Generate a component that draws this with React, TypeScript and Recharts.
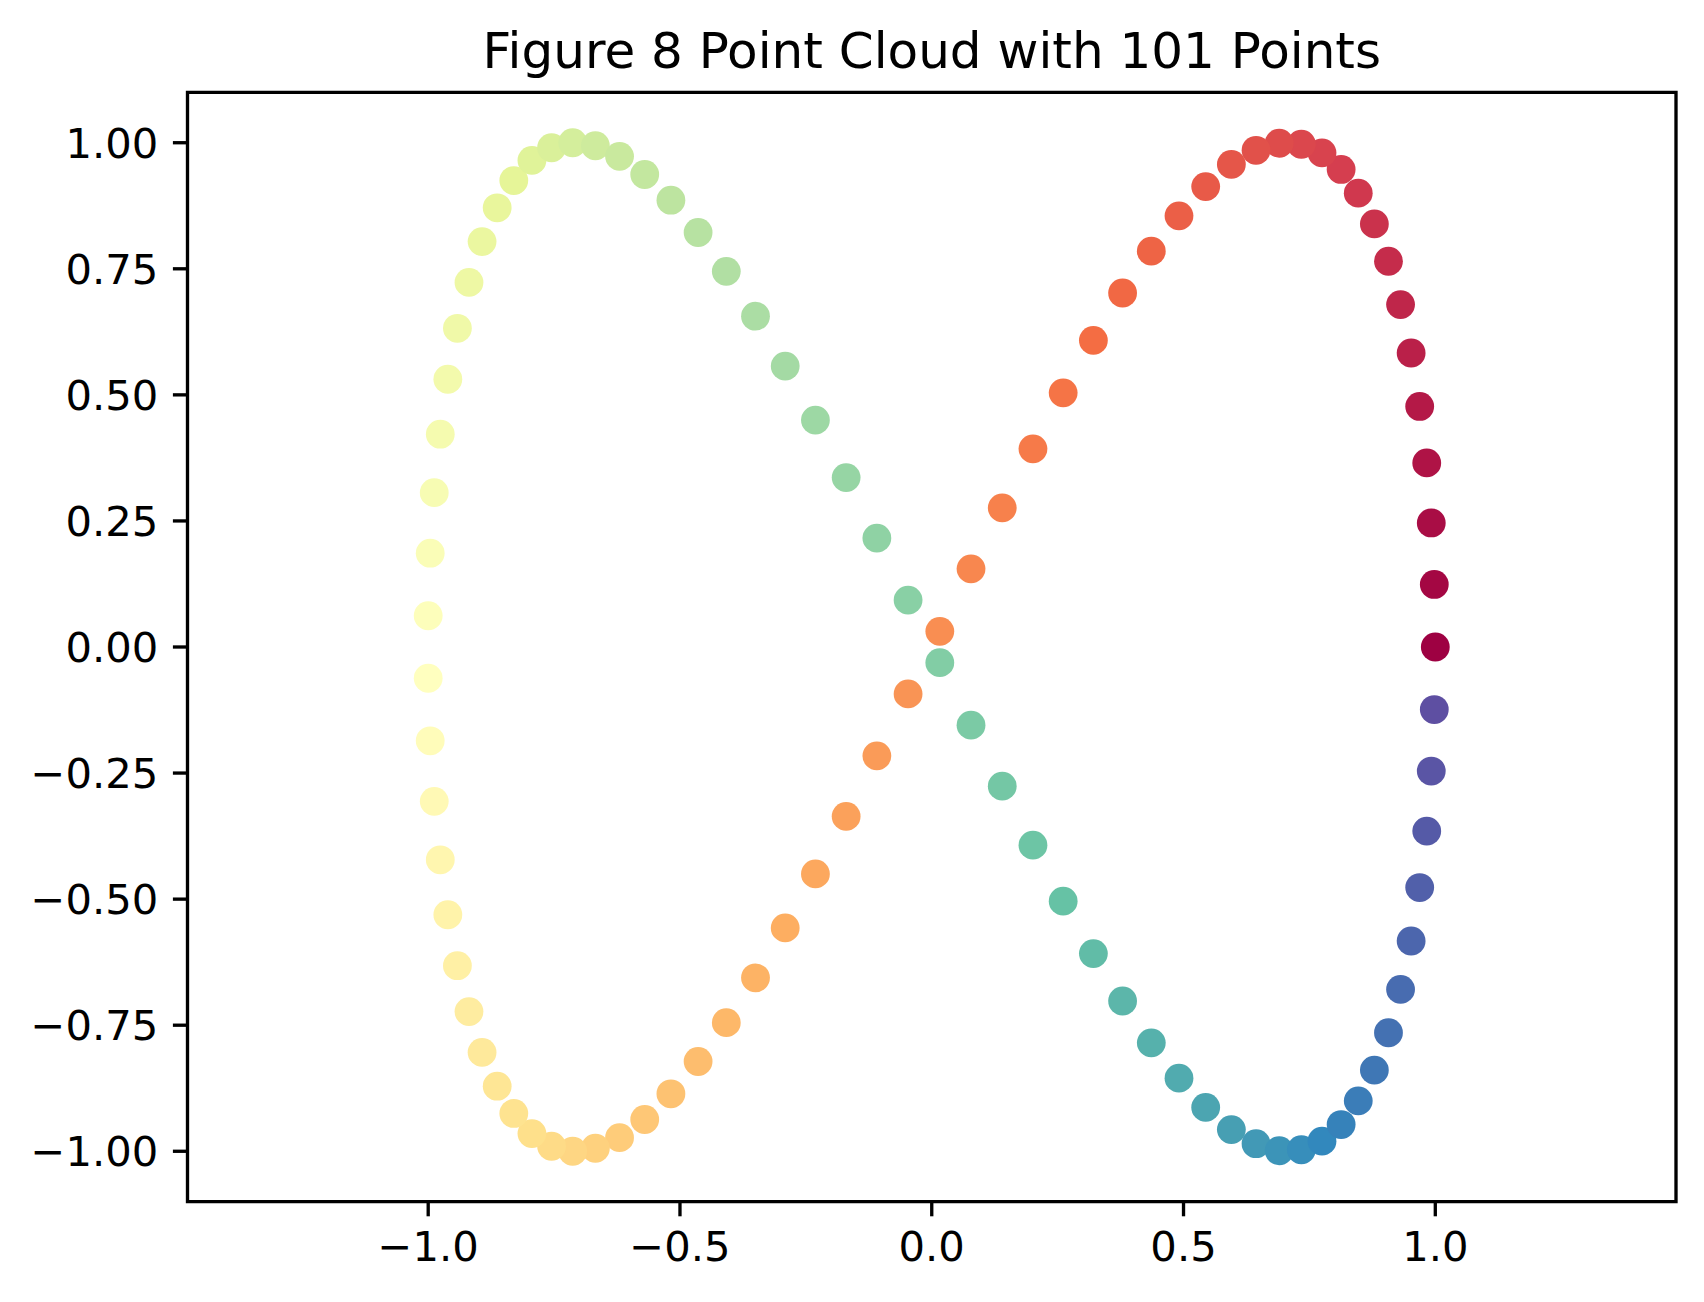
import React from "react";
import {
  ScatterChart,
  Scatter,
  XAxis,
  YAxis,
  ReferenceArea,
} from "recharts";

// Figure-8 point cloud: 101 points
const X_VALUES: number[] = [
  1.0, 0.998, 0.992, 0.983, 0.969, 0.952, 0.931, 0.907, 0.879, 0.847,
  0.813, 0.775, 0.734, 0.69, 0.644, 0.595, 0.544, 0.491, 0.436, 0.379,
  0.321, 0.261, 0.201, 0.14, 0.078, 0.016, -0.047, -0.109, -0.17, -0.231,
  -0.291, -0.35, -0.408, -0.464, -0.518, -0.57, -0.62, -0.668, -0.713, -0.755,
  -0.794, -0.83, -0.863, -0.893, -0.919, -0.942, -0.961, -0.976, -0.988, -0.996,
  -1.0,
  -1.0, -0.996, -0.988, -0.976, -0.961, -0.942, -0.919, -0.893, -0.863, -0.83,
  -0.794, -0.755, -0.713, -0.668, -0.62, -0.57, -0.518, -0.464, -0.408, -0.35,
  -0.291, -0.231, -0.17, -0.109, -0.047, 0.016, 0.078, 0.14, 0.201, 0.261,
  0.321, 0.379, 0.436, 0.491, 0.544, 0.595, 0.644, 0.69, 0.734, 0.775,
  0.813, 0.847, 0.879, 0.907, 0.931, 0.952, 0.969, 0.983, 0.992, 0.998,
];

const Y_VALUES: number[] = [
  0.0, 0.124, 0.246, 0.365, 0.477, 0.583, 0.679, 0.765, 0.839, 0.9,
  0.947, 0.98, 0.997, 0.999, 0.985, 0.957, 0.913, 0.855, 0.785, 0.702,
  0.608, 0.504, 0.393, 0.276, 0.155, 0.031, -0.093, -0.216, -0.336, -0.45,
  -0.557, -0.656, -0.745, -0.822, -0.886, -0.937, -0.973, -0.994, -1.0, -0.99,
  -0.965, -0.925, -0.871, -0.804, -0.723, -0.632, -0.531, -0.422, -0.306, -0.186,
  -0.062,
  0.062, 0.186, 0.306, 0.422, 0.531, 0.632, 0.723, 0.804, 0.871, 0.925,
  0.965, 0.99, 1.0, 0.994, 0.973, 0.937, 0.886, 0.822, 0.745, 0.656,
  0.557, 0.45, 0.336, 0.216, 0.093, -0.031, -0.155, -0.276, -0.393, -0.504,
  -0.608, -0.702, -0.785, -0.855, -0.913, -0.957, -0.985, -0.999, -0.997, -0.98,
  -0.947, -0.9, -0.839, -0.765, -0.679, -0.583, -0.477, -0.365, -0.246, -0.124,
];

const X_TICKS: number[] = [-1.0, -0.5, 0.0, 0.5, 1.0];
const Y_TICKS: number[] = [-1.0, -0.75, -0.5, -0.25, 0.0, 0.25, 0.5, 0.75, 1.0];
const X_DOMAIN: [number, number] = [-1.478, 1.478];
const Y_DOMAIN: [number, number] = [-1.1, 1.1];
const TITLE = "Figure 8 Point Cloud with 101 Points";

// matplotlib "Spectral" colormap anchors
const SPECTRAL: string[] = [
  "#9e0142", "#d53e4f", "#f46d43", "#fdae61", "#fee08b", "#ffffbf",
  "#e6f598", "#abdda4", "#66c2a5", "#3288bd", "#5e4fa2",
];

function hexToRgb(h: string): number[] {
  return [
    parseInt(h.slice(1, 3), 16),
    parseInt(h.slice(3, 5), 16),
    parseInt(h.slice(5, 7), 16),
  ];
}

function spectral(t: number): string {
  const n = SPECTRAL.length - 1;
  const pos = Math.max(0, Math.min(1, t)) * n;
  const i = Math.min(Math.floor(pos), n - 1);
  const f = pos - i;
  const a = hexToRgb(SPECTRAL[i]);
  const b = hexToRgb(SPECTRAL[i + 1]);
  const c = a.map((v, j) => Math.round(v + (b[j] - v) * f));
  return `rgb(${c[0]},${c[1]},${c[2]})`;
}

const table = X_VALUES.map((x, i) => ({ x, y: Y_VALUES[i], idx: i }));
const N = table.length - 1;

const minus = (s: string) => s.replace("-", "\u2212");
const fmtX = (v: number) => minus(v.toFixed(1));
const fmtY = (v: number) => minus(v.toFixed(2));

const FONT = "'DejaVu Sans', sans-serif";
const LW = 3.33;
const TICK_LEN = 14.6;
const TICK_PAD = 14.6;

const PLOT_LEFT = 187.5;
const PLOT_RIGHT = 1676;
const PLOT_TOP = 92.3;
const PLOT_BOTTOM = 1201.7;
const W = 1704;
const H = 1302;

const Dot = (props: any) => {
  const { cx, cy, payload } = props;
  if (cx == null || cy == null) return null;
  return <circle cx={cx} cy={cy} r={14.4} fill={spectral(payload.idx / N)} />;
};

export default function App() {
  return (
    <div style={{ position: "absolute", left: 0, top: 0, width: W, height: H, background: "#fff" }}>
      <ScatterChart
        width={W}
        height={H}
        margin={{ top: PLOT_TOP, right: W - PLOT_RIGHT, bottom: 0, left: 0 }}
      >
        <XAxis
          type="number"
          dataKey="x"
          domain={X_DOMAIN}
          ticks={X_TICKS}
          allowDataOverflow
          tickFormatter={fmtX}
          height={H - PLOT_BOTTOM}
          axisLine={false}
          tickSize={TICK_LEN}
          tickMargin={TICK_PAD}
          tickLine={{ stroke: "#000", strokeWidth: LW }}
          tick={{ fill: "#000", fontSize: 41.7, fontFamily: FONT }}
          interval={0}
        />
        <YAxis
          type="number"
          dataKey="y"
          domain={Y_DOMAIN}
          ticks={Y_TICKS}
          allowDataOverflow
          tickFormatter={fmtY}
          width={PLOT_LEFT}
          axisLine={false}
          tickSize={TICK_LEN}
          tickMargin={TICK_PAD}
          tickLine={{ stroke: "#000", strokeWidth: LW }}
          tick={{ fill: "#000", fontSize: 41.7, fontFamily: FONT }}
          interval={0}
        />
        <Scatter
          data={table}
          shape={Dot}
          isAnimationActive={false}
        />
        <ReferenceArea
          x1={X_DOMAIN[0]}
          x2={X_DOMAIN[1]}
          y1={Y_DOMAIN[0]}
          y2={Y_DOMAIN[1]}
          fill="none"
          fillOpacity={0}
          stroke="#000"
          strokeWidth={LW}
          ifOverflow="visible"
        />
      </ScatterChart>
      <svg
        width={W}
        height={120}
        style={{ position: "absolute", left: 0, top: 0, pointerEvents: "none" }}
      >
        <text
          x={(PLOT_LEFT + PLOT_RIGHT) / 2}
          y={67.5}
          textAnchor="middle"
          fontFamily={FONT}
          fontSize={50}
          fill="#000"
        >
          {TITLE}
        </text>
      </svg>
    </div>
  );
}
